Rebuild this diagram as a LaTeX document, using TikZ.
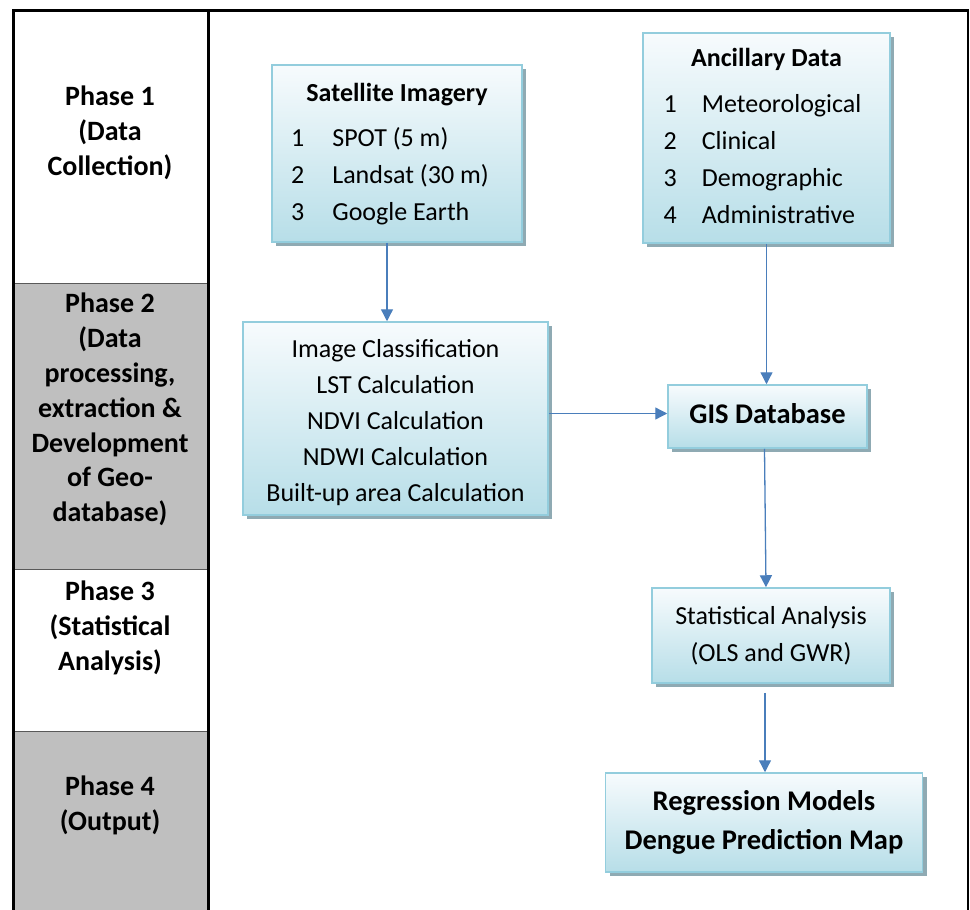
\documentclass[tikz,border=0pt]{standalone}
\usepackage{fontspec}
\setmainfont{Carlito}
\usetikzlibrary{shadows,arrows.meta,calc}
\definecolor{boxborder}{HTML}{93CDDD}
\definecolor{boxtop}{HTML}{F7FBFD}
\definecolor{boxbot}{HTML}{B7DEE8}
\definecolor{shadowc}{HTML}{8FAAB3}
\definecolor{arrowc}{HTML}{4A7EBB}
\definecolor{cellgray}{HTML}{BFBFBF}
\begin{document}
\begin{tikzpicture}[x=1pt,y=-1pt,
  box/.style={draw=boxborder, line width=1.5pt, top color=boxtop, bottom color=boxbot,
    inner sep=0pt, align=center,
    drop shadow={shadow xshift=4pt, shadow yshift=-4pt, fill=shadowc, opacity=1}},
  phase/.style={align=center, font=\fontsize{28}{34.8}\selectfont\bfseries, inner sep=0pt},
  arr/.style={draw=arrowc, line width=1.3pt, -{Triangle[length=12pt,width=12pt]}},
  txt/.style={font=\fontsize{26}{37}\selectfont}
]
\useasboundingbox (0,0) rectangle (970,910);
% phase column cells
\fill[cellgray] (13,283) rectangle (208,569);
\fill[cellgray] (13,731) rectangle (208,910);
\draw[gray!70!black, line width=0.8pt] (13,283) -- (208,283);
\draw[gray!70!black, line width=0.8pt] (13,569) -- (208,569);
\draw[gray!70!black, line width=0.8pt] (13,731) -- (208,731);
% frame
\draw[line width=3pt] (13,910) -- (13,10) -- (969,10);
\draw[line width=3pt] (208,10) -- (208,910);
\draw[line width=2pt] (968,10) -- (968,910);
% phase labels
\node[phase] (p1) at (110,133) {Phase 1\\(Data\\Collection)};
\node[phase] (p2) at (110,409.5) {Phase 2\\(Data\\processing,\\extraction \&\\Development\\of Geo-\\database)};
\node[phase] (p3) at (110,628) {Phase 3\\(Statistical\\Analysis)};
\node[phase] (p4) at (110,805.5) {Phase 4\\(Output)};
% boxes
\node[box, txt, minimum width=250pt, minimum height=177pt] (sat) at (397,153.5)
  {\begin{tabular}{@{}l@{\hspace{28pt}}l@{\hspace{14pt}}@{}}
   \multicolumn{2}{c}{\textbf{Satellite Imagery}}\\[8pt]
   1 & SPOT (5 m)\\
   2 & Landsat (30 m)\\
   3 & Google Earth
   \end{tabular}};
\node[box, txt, minimum width=247pt, minimum height=210pt] (anc) at (766.5,138)
  {\begin{tabular}{@{}l@{\hspace{25pt}}l@{\hspace{8pt}}@{}}
   \multicolumn{2}{c}{\textbf{Ancillary Data}}\\[9pt]
   1 & Meteorological\\
   2 & Clinical\\
   3 & Demographic\\
   4 & Administrative
   \end{tabular}};
\node[box, font=\fontsize{26}{36}\selectfont, minimum width=305pt, minimum height=193pt] (proc) at (395.5,418.5)
  {\raisebox{-4pt}[\height][\depth]{\begin{tabular}{@{}c@{}}Image Classification\\LST Calculation\\NDVI Calculation\\NDWI Calculation\\Built-up area Calculation\end{tabular}}};
\node[box, font=\fontsize{28.5}{36}\selectfont\bfseries, minimum width=199pt, minimum height=63pt] (gis) at (767.5,416.5)
  {\raisebox{3pt}[\height][\depth]{GIS Database}};
\node[box, font=\fontsize{26}{37}\selectfont, minimum width=238pt, minimum height=95pt] (stat) at (771,635.5)
  {Statistical Analysis\\(OLS and GWR)};
\node[box, font=\fontsize{28.5}{39}\selectfont\bfseries, minimum width=317pt, minimum height=99pt] (reg) at (764,822.5)
  {Regression Models\\Dengue Prediction Map};
% connectors
\coordinate (a1) at ($(sat.south)+(-10,0)$);
\draw[arr] (a1) -- (a1 |- proc.north);
\draw[arr] (anc.south) -- (anc.south |- gis.north);
\coordinate (a2) at ($(proc.east)+(0,-5)$);
\draw[arr] (a2) -- (a2 -| gis.west);
\coordinate (a3) at ($(gis.south)+(-3,0)$);
\draw[arr] (a3) -- ($(stat.north)+(-5,0)$);
\coordinate (a4) at ($(stat.south)+(-6,9)$);
\draw[arr] (a4) -- (a4 |- reg.north);
\end{tikzpicture}
\end{document}
